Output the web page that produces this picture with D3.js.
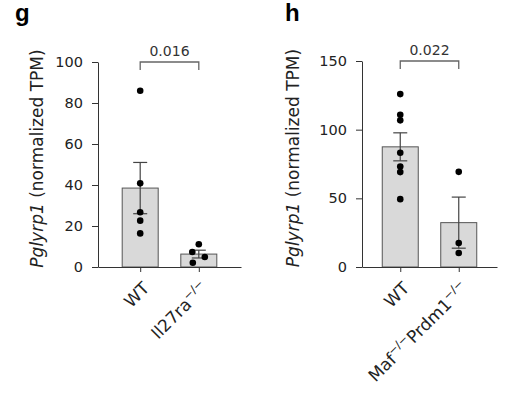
<!DOCTYPE html>
<html><head><meta charset="utf-8">
<script src="https://cdn.jsdelivr.net/npm/d3@7"></script>
<style>
html,body{margin:0;padding:0;background:#fff;}
svg{display:block;font-family:"DejaVu Sans", sans-serif;}
</style></head>
<body>
<svg id="chart" width="509" height="396"></svg>
<script>
// ---- data ----
const gCategories = ["WT", "Il27ra"];
const gMeans = [38.5, 6.3];
const gSem = [12.5, 1.9];
const gPointsWT = [86, 40.8, 26.7, 22.6, 16.4];
const gPointsKO = [11.1, 7.3, 4.9, 2.1];
const gJitterKO = [0, -6.5, 6, -6];
const gTicks = [0, 20, 40, 60, 80, 100];
const gP = "0.016";

const hCategories = ["WT", "Maf"];
const hMeans = [87.5, 32.3];
const hSem = [10.2, 18.6];
const hPointsWT = [125.9, 110.9, 106.8, 83.2, 73.2, 69.1, 49.4];
const hPointsKO = [69.3, 17.5, 10.2];
const hTicks = [0, 50, 100, 150];
const hP = "0.022";

const svg = d3.select("#chart");
const axisColor = "#333";
const textColor = "#222";

function panel(cfg) {
  const g = svg.append("g");
  const x = d3.scalePoint().domain(cfg.categories).range([cfg.x0, cfg.x1]).padding(cfg.pad);
  const y = d3.scaleLinear().domain([0, cfg.ymax]).range([cfg.y0, cfg.y1]);
  const bw = 36;

  // bars
  g.selectAll("rect.bar").data(cfg.means).join("rect")
    .attr("x", (d, i) => x(cfg.categories[i]) - bw / 2)
    .attr("y", d => y(d))
    .attr("width", bw)
    .attr("height", d => y(0) - y(d))
    .attr("fill", "#d9d9d9")
    .attr("stroke", "#555")
    .attr("stroke-width", 1);

  // error bars
  cfg.means.forEach((m, i) => {
    const cx = x(cfg.categories[i]);
    const lo = m - cfg.sem[i], hi = m + cfg.sem[i];
    g.append("line").attr("x1", cx).attr("x2", cx).attr("y1", y(lo)).attr("y2", y(hi))
      .attr("stroke", "#444").attr("stroke-width", 1.2);
    [lo, hi].forEach(v => g.append("line").attr("x1", cx - 7).attr("x2", cx + 7)
      .attr("y1", y(v)).attr("y2", y(v)).attr("stroke", "#444").attr("stroke-width", 1.2));
  });

  // points
  const pts = [];
  cfg.pointsWT.forEach(v => pts.push({c: cfg.categories[0], v, j: 0}));
  cfg.pointsKO.forEach((v, k) => pts.push({c: cfg.categories[1], v, j: cfg.jitterKO ? cfg.jitterKO[k] : 0}));
  g.selectAll("circle.pt").data(pts).join("circle")
    .attr("cx", d => x(d.c) + d.j)
    .attr("cy", d => y(d.v))
    .attr("r", 3.3)
    .attr("fill", "#000");

  // y axis
  const ya = g.append("g").attr("transform", `translate(${cfg.x0},0)`)
    .call(d3.axisLeft(y).tickValues(cfg.ticks).tickSize(6).tickSizeOuter(0).tickPadding(9));
  ya.select(".domain").attr("stroke", axisColor);
  ya.selectAll(".tick line").attr("stroke", axisColor);
  ya.selectAll(".tick text").attr("fill", textColor).style("font-size", "14.5px")
    .style("font-family", "'DejaVu Sans', sans-serif");

  // x axis
  const xa = g.append("g").attr("transform", `translate(0,${cfg.y0})`)
    .call(d3.axisBottom(x).tickSize(5).tickSizeOuter(0).tickFormat(""));
  xa.select(".domain").attr("stroke", axisColor);
  xa.selectAll(".tick line").attr("stroke", axisColor);

  // x labels (rotated)
  cfg.labels.forEach((lab, i) => {
    const cx = x(cfg.categories[i]);
    const t = g.append("text")
      .attr("transform", `translate(${cx + 6},${cfg.y0 + 18}) rotate(-45)`)
      .attr("text-anchor", "end")
      .attr("dy", "0.35em")
      .attr("fill", textColor)
      .style("font-size", "17px");
    lab.forEach(part => {
      const ts = t.append("tspan").text(part.t);
      if (part.sup) ts.attr("baseline-shift", "super").style("font-size", "11.5px");
    });
  });

  // y title
  const yt = g.append("text")
    .attr("transform", `translate(${cfg.titleX},${(cfg.y0 + cfg.y1) / 2 - 6}) rotate(-90)`)
    .attr("text-anchor", "middle")
    .attr("fill", textColor)
    .style("font-size", "17px");
  yt.append("tspan").text("Pglyrp1").style("font-style", "italic");
  yt.append("tspan").text(" (normalized TPM)");

  // significance bracket
  const bx0 = x(cfg.categories[0]), bx1 = x(cfg.categories[1]);
  const by = y(cfg.ymax);
  g.append("path")
    .attr("d", `M${bx0},${by + 8}V${by}H${bx1}V${by + 8}`)
    .attr("fill", "none").attr("stroke", "#666").attr("stroke-width", 1.3);
  g.append("text").attr("x", (bx0 + bx1) / 2).attr("y", by - 6)
    .attr("text-anchor", "middle").attr("fill", "#333").style("font-size", "14px")
    .text(cfg.p);

  // panel letter
  svg.append("text").attr("x", cfg.letterX).attr("y", 21)
    .style("font-size", "24px").style("font-weight", "bold")
    .style("font-family", "'Liberation Sans', Arial, sans-serif")
    .attr("fill", "#000").text(cfg.letter);
}

panel({
  categories: gCategories, means: gMeans, sem: gSem,
  pointsWT: gPointsWT, pointsKO: gPointsKO, jitterKO: gJitterKO,
  ticks: gTicks, ymax: 100, p: gP,
  x0: 98, x1: 241, pad: 0.72, y0: 267, y1: 62,
  titleX: 43, letter: "g", letterX: 15,
  labels: [[{t: "WT"}], [{t: "Il27ra"}, {t: "−/−", sup: true}]]
});

panel({
  categories: hCategories, means: hMeans, sem: hSem,
  pointsWT: hPointsWT, pointsKO: hPointsKO, jitterKO: null,
  ticks: hTicks, ymax: 150, p: hP,
  x0: 362, x1: 497, pad: 0.654, y0: 267, y1: 61,
  titleX: 299, letter: "h", letterX: 285,
  labels: [[{t: "WT"}], [{t: "Maf"}, {t: "−/−", sup: true}, {t: "Prdm1"}, {t: "−/−", sup: true}]]
});
</script>
</body></html>
